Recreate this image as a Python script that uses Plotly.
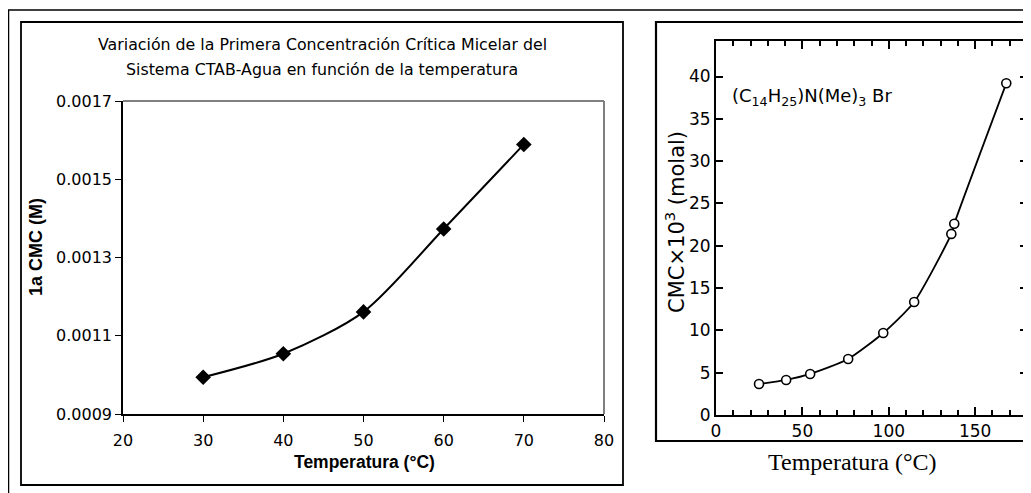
import plotly.graph_objects as go

# ---------------- data ----------------
# Left chart: 1a CMC (M) vs Temperatura (°C)
temp_left = [30, 40, 50, 60, 70]
cmc_left = [0.000994, 0.001054, 0.001161, 0.001373, 0.001589]

# Right chart: CMC x 10^3 (molal) vs Temperatura (°C)
temp_right = [24.9, 40.6, 54.5, 76.5, 96.8, 114.7, 136.2, 137.9, 168.0]
cmc_right = [3.66, 4.14, 4.85, 6.62, 9.69, 13.36, 21.4, 22.6, 39.2]

left_title_1 = "Variación de la Primera Concentración Crítica Micelar del"
left_title_2 = "Sistema CTAB-Agua en función de la temperatura"
left_xlabel = "Temperatura (°C)"
left_ylabel = "1a CMC (M)"
right_xlabel = "Temperatura (°C)"
right_ylabel = "CMC×10<sup>3</sup> (molal)"
right_note = "(C<sub>14</sub>H<sub>25</sub>)N(Me)<sub>3</sub> Br"

# page body adds an 8px offset; the figure covers the visible window from (8, 8)
OFF = 8
W, H = 1031 - OFF, 493 - OFF


def X(px):
    return (px - OFF) / W


def Y(py):
    return 1 - (py - OFF) / H


SANS = "Arial, Liberation Sans, sans-serif"
WIDE = "DejaVu Sans, Verdana, sans-serif"
SERIF = "Times New Roman, Liberation Serif, serif"

fig = go.Figure()

fig.add_trace(go.Scatter(
    x=temp_left, y=cmc_left, mode="lines+markers",
    line=dict(color="black", width=2, shape="spline", smoothing=0.8),
    marker=dict(symbol="diamond", size=12, color="black"),
    xaxis="x", yaxis="y", showlegend=False, cliponaxis=False,
))

fig.add_trace(go.Scatter(
    x=temp_right, y=cmc_right, mode="lines+markers",
    line=dict(color="black", width=1.8, shape="spline", smoothing=0.6),
    marker=dict(symbol="circle", size=9, color="white",
                line=dict(color="black", width=1.6)),
    xaxis="x2", yaxis="y2", showlegend=False, cliponaxis=False,
))

# left plot area px
LX0, LX1, LY0, LY1 = 123, 604, 101, 414
# right plot area px
RX0, RX1, RY0, RY1 = 716, 1027, 41, 415

fig.update_layout(
    width=W, height=H,
    margin=dict(l=0, r=0, t=0, b=0, pad=0, autoexpand=False),
    paper_bgcolor="white", plot_bgcolor="white",
    xaxis=dict(
        domain=[X(LX0), X(LX1)], range=[20, 80], dtick=10, tick0=20,
        showgrid=False, zeroline=False, automargin=False,
        showline=True, linecolor="black", linewidth=1.5,
        ticks="outside", ticklen=6, tickwidth=1.2, tickcolor="black",
        ticklabelstandoff=5,
        tickfont=dict(family=WIDE, size=16, color="black"),
        anchor="y",
    ),
    yaxis=dict(
        domain=[Y(LY1), Y(LY0)], range=[0.0009, 0.0017], dtick=0.0002, tick0=0.0009,
        tickformat=".4f",
        showgrid=False, zeroline=False, automargin=False,
        showline=True, linecolor="black", linewidth=1.5,
        ticks="outside", ticklen=6, tickwidth=1.2, tickcolor="black",
        tickfont=dict(family=WIDE, size=16, color="black"),
        anchor="x",
    ),
    xaxis2=dict(
        domain=[X(RX0), X(RX1)], range=[0, 180],
        tickvals=[0, 50, 100, 150],
        showgrid=False, zeroline=False, automargin=False,
        showline=True, linecolor="black", linewidth=2, mirror="ticks",
        ticks="inside", ticklen=8, tickwidth=1.5, tickcolor="black",
        minor=dict(dtick=10, tick0=0, ticks="inside", ticklen=5,
                   tickwidth=1.5, tickcolor="black", showgrid=False),
        tickfont=dict(family=WIDE, size=17, color="black"),
        anchor="y2",
    ),
    yaxis2=dict(
        domain=[Y(RY1), Y(RY0)], range=[0, 44.2], dtick=5, tick0=0,
        showgrid=False, zeroline=False, automargin=False,
        showline=True, linecolor="black", linewidth=2, mirror="ticks",
        ticks="inside", ticklen=7, tickwidth=1.5, tickcolor="black",
        tickfont=dict(family=WIDE, size=17, color="black"),
        anchor="x2",
    ),
)

line_k = dict(color="black", width=1.5)
shapes = [
    # outer frame (top and left)
    dict(type="line", xref="paper", yref="paper", x0=X(8), x1=1, y0=Y(10), y1=Y(10), line=line_k),
    dict(type="line", xref="paper", yref="paper", x0=X(8.5), x1=X(8.5), y0=Y(10), y1=0, line=line_k),
    # left chart box
    dict(type="rect", xref="paper", yref="paper", x0=X(21), x1=X(623), y0=Y(485), y1=Y(22),
         line=dict(color="black", width=1.8)),
    # gray top/right border of left plot area
    dict(type="line", xref="paper", yref="paper", x0=X(LX0), x1=X(LX1), y0=Y(LY0), y1=Y(LY0),
         line=dict(color="#808080", width=2)),
    dict(type="line", xref="paper", yref="paper", x0=X(LX1), x1=X(LX1), y0=Y(LY0), y1=Y(LY1),
         line=dict(color="#808080", width=2)),
    # right chart box
    dict(type="rect", xref="paper", yref="paper", x0=X(656), x1=X(1045), y0=Y(441), y1=Y(22),
         line=dict(color="black", width=2.2)),
]
fig.update_layout(shapes=shapes)

ann = [
    dict(text=left_title_1, x=X(322), y=Y(45), font=dict(family=WIDE, size=15.8, color="black")),
    dict(text=left_title_2, x=X(322), y=Y(69), font=dict(family=WIDE, size=15.8, color="black")),
    dict(text="<b>" + left_xlabel + "</b>", x=X(364), y=Y(462),
         font=dict(family=SANS, size=17.5, color="black")),
    dict(text="<b>" + left_ylabel + "</b>", x=X(36), y=Y(247), textangle=-90,
         font=dict(family=SANS, size=18, color="black")),
    dict(text=right_ylabel, x=X(675), y=Y(222), textangle=-90,
         font=dict(family=WIDE, size=21, color="black")),
    dict(text=right_note, x=X(730), y=Y(97), xanchor="left",
         font=dict(family=WIDE, size=18, color="black")),
    dict(text=right_xlabel, x=X(852), y=Y(462),
         font=dict(family=SERIF, size=24, color="black")),
]
for a in ann:
    a.setdefault("xanchor", "center")
    a.update(xref="paper", yref="paper", yanchor="middle", showarrow=False)
fig.update_layout(annotations=ann)

fig.write_html("out.html")
